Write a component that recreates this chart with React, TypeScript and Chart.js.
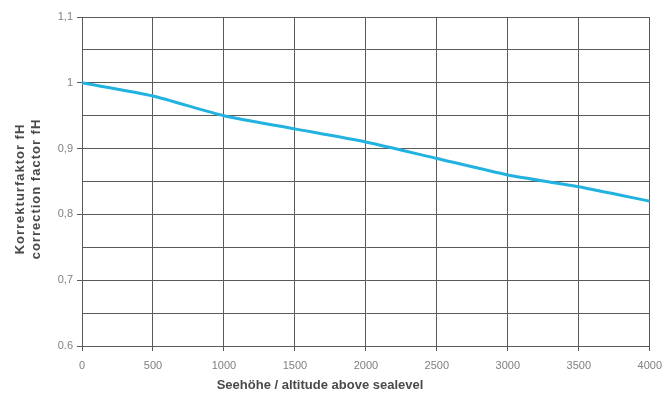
import React, { useEffect, useRef } from "react";
import { Chart, registerables } from "chart.js";

Chart.register(...registerables);

const altitudes = [0, 500, 1000, 1500, 2000, 2500, 3000, 3500, 4000];
const factors = [1.0, 0.98, 0.95, 0.93, 0.91, 0.885, 0.86, 0.842, 0.82];
const yTitle = ["Korrekturfaktor fH", "correction factor fH"];
const xTitle = "Seehöhe / altitude above sealevel";

const titlePlugin = {
  id: "axisTitles",
  afterDraw(chart: any) {
    const ctx = chart.ctx as CanvasRenderingContext2D;
    ctx.save();
    ctx.fillStyle = "#4a4a4a";
    ctx.font = "bold 13px 'Liberation Sans', Arial";
    ctx.textAlign = "center";
    ctx.textBaseline = "middle";
    (ctx as any).letterSpacing = "0px";
    ctx.fillText(xTitle, 320, 385);
    (ctx as any).letterSpacing = "1px";
    ctx.translate(0, 189);
    ctx.rotate(-Math.PI / 2);
    ctx.fillText(yTitle[0], 0, 20);
    ctx.fillText(yTitle[1], 0, 36);
    ctx.restore();
  },
};

export default function App() {
  const ref = useRef<HTMLCanvasElement>(null);
  useEffect(() => {
    document.body.style.margin = "0";
    const grid = "#5a5a5a";
    const chart = new Chart(ref.current!, {
      type: "scatter",
      data: {
        datasets: [
          {
            data: altitudes.map((a, i) => ({ x: a, y: factors[i] })),
            showLine: true,
            borderColor: "#22b2e0",
            borderWidth: 3,
            pointRadius: 0,
            tension: 0.2,
          },
        ],
      },
      plugins: [titlePlugin],
      options: {
        animation: false,
        responsive: false,
        layout: { padding: { top: 17, right: 12, left: 0, bottom: 0 } },
        plugins: { legend: { display: false }, tooltip: { enabled: false } },
        scales: {
          x: {
            type: "linear",
            min: 0,
            max: 4000,
            afterFit: (s: any) => { s.height = 50; },
            ticks: {
              stepSize: 500,
              autoSkip: false,
              maxRotation: 0,
              padding: 8,
              color: "#808080",
              font: { family: "Liberation Sans, Arial", size: 11 },
              callback: (v: any) => String(v),
            },
            grid: { color: grid, lineWidth: 1, tickLength: 5, tickColor: grid },
            border: { color: grid, width: 1 },
          },
          y: {
            type: "linear",
            min: 0.6,
            max: 1.1,
            afterFit: (s: any) => { s.width = 82; },
            ticks: {
              stepSize: 0.05,
              autoSkip: false,
              padding: 4,
              color: "#808080",
              font: { family: "Liberation Sans, Arial", size: 11 },
              callback: (v: any) => {
                const r = Math.round(Number(v) * 100);
                if (r % 10 !== 0) return "";
                if (r === 60) return "0.6";
                return String(r / 100).replace(".", ",");
              },
            },
            grid: {
              color: grid,
              lineWidth: 1,
              tickLength: 5,
              tickColor: (ctx: any) =>
                ctx.tick && Math.round(ctx.tick.value * 100) % 10 === 0 ? grid : "rgba(0,0,0,0)",
            },
            border: { color: grid, width: 1 },
          },
        },
      },
    } as any);
    return () => chart.destroy();
  }, []);
  return <canvas ref={ref} width={670} height={396} style={{ display: "block" }} />;
}
